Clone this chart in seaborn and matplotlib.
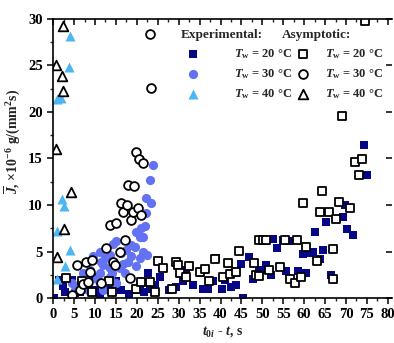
import numpy as np
import pandas as pd
import matplotlib
matplotlib.use("Agg")
import matplotlib.pyplot as plt
import seaborn as sns

# ---- data (t0i - t in s, J in 1e-6 g/(mm2 s)) ----
exp20_x = [0.3, 1.4, 2.4, 2.8, 4.4, 5.2, 6.4, 7.6, 9.5, 10.0, 11.2, 13.5, 15.1, 16.3, 18.2, 19.9, 20.7,
           21.8, 22.7, 23.1, 24.3, 25.5, 26.1, 27.8, 29.4, 31.0, 31.8, 33.4, 35.0, 35.8, 36.2, 37.0,
           38.2, 39.0, 40.4, 41.0, 42.6, 43.8, 43.8, 45.0, 45.3, 46.9, 47.7, 49.3, 50.1, 50.9, 52.1,
           52.5, 53.5, 54.9, 55.7, 56.3, 58.5, 59.7, 60.5, 61.1, 62.1, 62.5, 63.7, 64.4, 65.1, 66.4,
           69.2, 69.8, 70.3, 71.6, 74.4, 74.9]
exp20_y = [0.0, 1.9, 1.3, 0.6, 1.9, 0.5, 0.7, 1.2, 2.3, 0.9, 0.4, 0.9, 1.8, 0.9, 0.4, 0.9, 1.4,
           0.6, 2.7, 1.0, 1.4, 2.3, 3.2, 0.9, 1.2, 1.8, 3.0, 1.4, 2.7, 1.0, 3.0, 1.0,
           1.8, 4.3, 1.0, 1.9, 1.2, 2.7, 1.4, 3.7, 0.0, 4.4, 2.1, 3.0, 3.0, 3.5, 2.5,
           6.3, 5.4, 6.2, 2.9, 6.1, 2.9, 4.7, 2.7, 4.8, 5.0, 7.1, 4.2, 5.2, 8.2, 2.5,
           8.7, 10.0, 7.4, 6.8, 16.4, 13.2]

exp30_x = [4.4, 5.2, 6.4, 7.2, 8.0, 8.4, 8.8, 9.5, 10.5, 11.1, 11.1, 11.1, 11.5, 11.9, 12.0, 12.5,
           13.5, 13.5, 13.5, 14.0, 14.3, 15.1, 15.1, 15.9, 16.3, 16.7, 17.1, 17.5, 17.9, 18.7, 18.7,
           19.5, 19.8, 19.9, 20.7, 20.7, 20.9, 21.5, 21.5, 21.9, 22.1, 22.3, 22.5, 23.1, 23.5, 23.9]
exp30_y = [1.6, 0.9, 1.4, 2.7, 2.1, 0.9, 3.0, 4.5, 2.0, 5.0, 2.7, 1.6, 3.9, 0.9, 3.5, 4.3,
           4.6, 3.2, 2.3, 2.7, 5.8, 6.1, 1.6, 3.2, 4.8, 3.7, 2.7, 5.2, 3.9, 5.7, 4.5,
           5.5, 3.4, 7.1, 6.6, 4.3, 7.5, 6.6, 5.0, 7.7, 10.7, 9.1, 4.6, 12.7, 10.2, 14.3]

exp40_x = [4.0, 3.7, 0.8, 1.9, 2.1, 2.6, 0.8, 4.1, 2.8, 1.0]
exp40_y = [28.2, 24.8, 21.4, 21.5, 10.6, 9.9, 7.2, 5.2, 3.4, 2.0]

asy20_x = [3.0, 6.8, 9.2, 13.3, 14.0, 19.9, 21.1, 23.1, 24.3, 25.1, 26.3, 28.4, 29.4, 29.8, 30.2,
           31.8, 32.5, 35.0, 36.4, 37.3, 38.6, 40.5, 41.8, 42.3, 43.8, 44.5, 48.0, 48.4, 49.2,
           49.3, 50.1, 50.9, 51.5, 54.3, 55.5, 56.7, 57.7, 58.3, 59.3, 59.8, 60.5, 63.0, 63.7,
           64.3, 65.9, 66.8, 67.0, 67.6, 68.3, 69.1, 71.0, 72.2, 73.0, 73.8, 74.6]
asy20_y = [2.2, 1.8, 0.7, 1.8, 0.7, 1.0, 1.7, 1.7, 0.6, 4.0, 3.2, 1.0, 3.9, 3.5, 2.7,
           2.3, 3.4, 2.8, 3.1, 1.8, 4.2, 2.3, 3.8, 2.6, 2.8, 5.1, 3.8, 2.5, 2.4,
           6.2, 6.2, 6.2, 3.0, 3.3, 6.2, 2.1, 1.6, 6.2, 2.3, 10.2, 5.5, 4.0, 9.3,
           11.5, 9.2, 5.3, 2.0, 8.5, 10.3, 19.6, 9.7, 14.6, 13.2, 14.9, 29.8]

asy30_x = [4.6, 5.6, 6.3, 7.2, 7.8, 8.4, 8.8, 9.2, 11.5, 12.7, 13.5, 14.3, 14.7, 15.0, 15.9, 16.2,
           16.7, 17.1, 17.7, 17.9, 18.3, 18.6, 19.1, 19.4, 19.9, 20.3, 20.6, 21.0, 21.5, 23.2, 23.5]
asy30_y = [0.3, 3.5, 0.9, 1.5, 3.9, 1.7, 2.8, 4.1, 1.6, 5.4, 7.8, 3.9, 3.6, 8.1, 5.0, 10.2,
           9.3, 6.2, 10.0, 12.2, 2.2, 8.4, 9.2, 12.0, 15.7, 9.7, 14.9, 8.9, 14.5, 28.4, 22.6]

asy40_x = [2.4, 0.6, 2.1, 2.4, 0.6, 4.2, 2.6, 1.0]
asy40_y = [29.2, 25.0, 23.9, 22.2, 16.0, 11.4, 7.4, 4.4]

temps = ["20", "30", "40"]

sns.set_theme(style="white")
plt.rcParams['font.family'] = ['Liberation Serif', 'DejaVu Serif']
plt.rcParams['font.weight'] = 'bold'
plt.rcParams['mathtext.fontset'] = 'custom'
plt.rcParams['mathtext.rm'] = 'Liberation Serif:bold'
plt.rcParams['mathtext.it'] = 'Liberation Serif:italic:bold'
plt.rcParams['mathtext.bf'] = 'Liberation Serif:bold'

fig, ax = plt.subplots(figsize=(3.94, 3.43), dpi=100)
fig.subplots_adjust(left=0.135, right=0.995, top=0.945, bottom=0.131)

ms = 38
sns.scatterplot(x=exp20_x, y=exp20_y, marker='s', color='#060688', s=ms, linewidth=0, ax=ax)
sns.scatterplot(x=exp30_x, y=exp30_y, marker='o', color='#6272f2', s=ms + 6, linewidth=0, ax=ax)
sns.scatterplot(x=exp40_x, y=exp40_y, marker='^', color='#4bb6f2', s=ms + 14, linewidth=0, ax=ax)
sns.scatterplot(x=asy20_x, y=asy20_y, marker='s', facecolor='white', edgecolor='black',
                s=ms - 6, linewidth=1.3, ax=ax)
sns.scatterplot(x=asy30_x, y=asy30_y, marker='o', facecolor='white', edgecolor='black',
                s=ms + 2, linewidth=1.3, ax=ax)
sns.scatterplot(x=asy40_x, y=asy40_y, marker='^', facecolor='white', edgecolor='black',
                s=ms + 10, linewidth=1.3, ax=ax)

ax.set_xlim(0, 81)
ax.set_ylim(0, 30)
ax.set_xticks(np.arange(0, 81, 5))
ax.set_xticks(np.arange(0, 81, 2.5), minor=True)
ax.set_yticks(np.arange(0, 31, 5))
ax.set_yticks(np.arange(0, 31, 2.5), minor=True)

for s in ['left', 'bottom', 'top']:
    ax.spines[s].set_color('black')
    ax.spines[s].set_linewidth(1.2)
ax.spines['right'].set_visible(False)
ax.tick_params(axis='both', which='major', direction='out', length=4, width=1.1,
               labelsize=10.5, colors='black', bottom=True, left=True, top=True, right=True)
ax.tick_params(axis='both', which='minor', direction='out', length=2.5, width=1.0,
               bottom=True, left=True, top=True)
for t in ax.xaxis.get_major_ticks() + ax.xaxis.get_minor_ticks():
    t.tick2line.set_marker(3)  # top ticks pointing into the axes
for t in ax.yaxis.get_major_ticks():
    t.tick2line.set_marker(0)  # right ticks pointing inward
ax.yaxis.set_tick_params(which='minor', right=False)
for lab in ax.get_xticklabels() + ax.get_yticklabels():
    lab.set_fontweight('bold')

ax.set_xlabel(r"$t_{0i}$ - $t$, s", fontsize=10, fontweight='bold', labelpad=2)
ax.set_ylabel(r"$\overline{J}$, $\times$10$^{-6}$ g/(mm$^2$s)", fontsize=10,
              fontweight='bold')
ax.yaxis.set_label_coords(-0.091, 0.56)

cols = ax.collections
labels = [r"$T_\mathrm{w}$ = " + t + " °C" for t in temps]
leg_kw = dict(loc='upper left', frameon=False, fontsize=9, alignment='left',
              title_fontproperties={'weight': 'bold', 'size': 9.5},
              labelspacing=0.5, borderpad=0, borderaxespad=0)
leg1 = ax.legend(cols[:3], labels, title="Experimental:", bbox_to_anchor=(0.375, 0.965),
                 handlelength=2.1, handletextpad=2.2, **leg_kw)
ax.add_artist(leg1)
leg2 = ax.legend(cols[3:], labels, title="Asymptotic:", bbox_to_anchor=(0.675, 0.965),
                 handlelength=3.3, handletextpad=0.15, **leg_kw)

fig.savefig("out.png", dpi=100)
